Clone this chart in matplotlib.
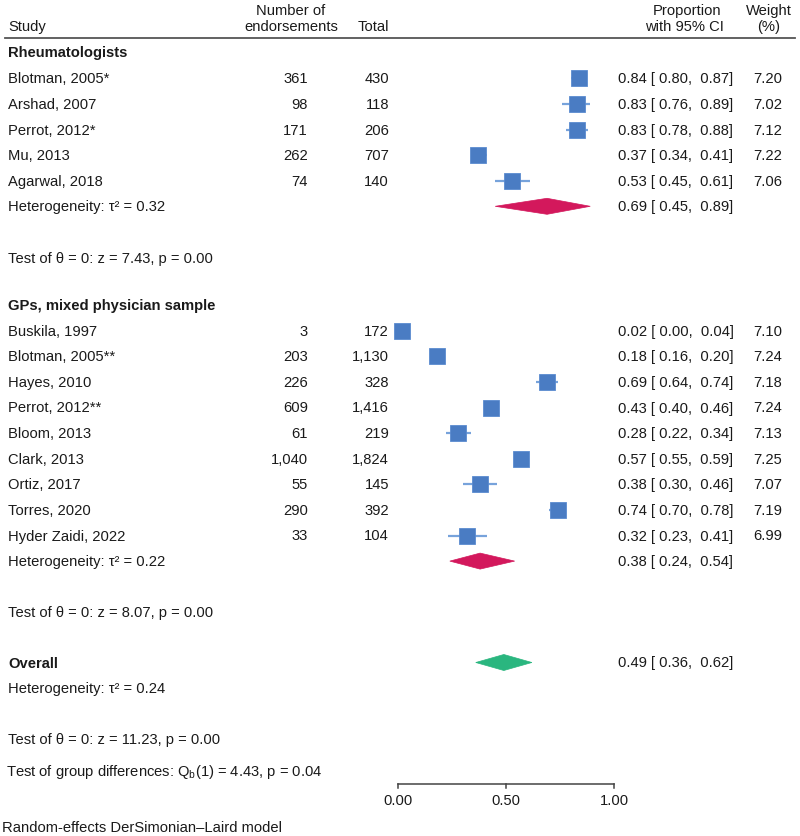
import matplotlib
matplotlib.use("Agg")
import matplotlib.pyplot as plt
from matplotlib.transforms import blended_transform_factory
from matplotlib.patches import Polygon

plt.rcParams['font.family'] = ['Liberation Sans', 'DejaVu Sans']
plt.rcParams['mathtext.fontset'] = 'custom'
plt.rcParams['mathtext.rm'] = 'Liberation Sans'
plt.rcParams['mathtext.it'] = 'Liberation Sans:italic'

# ---------------- data ----------------
rheum_studies = ["Blotman, 2005*", "Arshad, 2007", "Perrot, 2012*", "Mu, 2013", "Agarwal, 2018"]
rheum_endorse = [361, 98, 171, 262, 74]
rheum_total = [430, 118, 206, 707, 140]
rheum_prop = [0.84, 0.83, 0.83, 0.37, 0.53]
rheum_lo = [0.80, 0.76, 0.78, 0.34, 0.45]
rheum_hi = [0.87, 0.89, 0.88, 0.41, 0.61]
rheum_weight = [7.20, 7.02, 7.12, 7.22, 7.06]
rheum_pooled = [0.69, 0.45, 0.89]
rheum_tau2 = 0.32
rheum_z = 7.43
rheum_p = 0.00

gp_studies = ["Buskila, 1997", "Blotman, 2005**", "Hayes, 2010", "Perrot, 2012**", "Bloom, 2013",
              "Clark, 2013", "Ortiz, 2017", "Torres, 2020", "Hyder Zaidi, 2022"]
gp_endorse = [3, 203, 226, 609, 61, 1040, 55, 290, 33]
gp_total = [172, 1130, 328, 1416, 219, 1824, 145, 392, 104]
gp_prop = [0.02, 0.18, 0.69, 0.43, 0.28, 0.57, 0.38, 0.74, 0.32]
gp_lo = [0.00, 0.16, 0.64, 0.40, 0.22, 0.55, 0.30, 0.70, 0.23]
gp_hi = [0.04, 0.20, 0.74, 0.46, 0.34, 0.59, 0.46, 0.78, 0.41]
gp_weight = [7.10, 7.24, 7.18, 7.24, 7.13, 7.25, 7.07, 7.19, 6.99]
gp_pooled = [0.38, 0.24, 0.54]
gp_tau2 = 0.22
gp_z = 8.07
gp_p = 0.00

overall_pooled = [0.49, 0.36, 0.62]
overall_tau2 = 0.24
overall_z = 11.23
overall_p = 0.00
group_Q = 4.43
group_df = 1
group_p = 0.04

xticks = [0.0, 0.5, 1.0]
xtick_labels = ["0.00", "0.50", "1.00"]

# ---------------- layout ----------------
W, H = 800, 837
X0PX, X1PX = 398, 614          # pixel positions of proportion 0 and 1
STEP = 25.6
FS = 10.6

fig = plt.figure(figsize=(W / 100, H / 100), dpi=100)
ax = fig.add_axes([0, 0, 1, 1])
ax.set_xlim(-X0PX / (X1PX - X0PX), (W - X0PX) / (X1PX - X0PX))
ax.set_ylim(H, 0)
ax.axis('off')
tr = blended_transform_factory(ax.transAxes, ax.transData)

def txt(px, y, s, ha='left', bold=False, **kw):
    ax.text(px / W, y, s, transform=tr, ha=ha, va='center', fontsize=FS,
            fontweight='bold' if bold else 'normal', color='#1a1a1a', **kw)

SQ_COLOR = '#4a7cc3'
CI_COLOR = '#77a3db'
RED = '#d3185c'
GREEN = '#2ab67f'

def study_row(y, name, e, t, p, lo, hi, w):
    txt(8, y, name)
    txt(308, y, f"{e:,}", ha='right')
    txt(389, y, f"{t:,}", ha='right')
    ax.plot([lo, hi], [y, y], color=CI_COLOR, lw=1.6, zorder=2, solid_capstyle='butt')
    side = 16.0 * (w / 7.2) ** 0.5   # px
    ax.plot([p], [y], marker='s', ms=side * 0.72, color=SQ_COLOR, mec='#5b8bd0',
            mew=0.6, zorder=3, linestyle='none')
    txt(618, y, f"{p:.2f} [ {lo:.2f},  {hi:.2f}]")
    txt(768, y, f"{w:.2f}", ha='center')

def diamond(y, est, lo, hi, color):
    half = 8
    ax.add_patch(Polygon([[lo, y], [est, y - half], [hi, y], [est, y + half]],
                         closed=True, facecolor=color, edgecolor=color, lw=0.5, zorder=3))
    txt(618, y, f"{est:.2f} [ {lo:.2f},  {hi:.2f}]")

# header
txt(291, 11, "Number of", ha='center')
txt(291, 27, "endorsements", ha='center')
txt(8, 27, "Study")
txt(389, 27, "Total", ha='right')
txt(687, 11, "Proportion", ha='center')
txt(684, 27, "with 95% CI", ha='center')
txt(769, 11, "Weight", ha='center')
txt(769, 27, "(%)", ha='center')
ax.plot([5 / W, 795 / W], [39, 39], transform=tr, color='#555555', lw=1.3)

# Rheumatologists
y0 = 79.3
txt(8, 53, "Rheumatologists", bold=True)
for i in range(len(rheum_studies)):
    study_row(y0 + i * STEP, rheum_studies[i], rheum_endorse[i], rheum_total[i],
              rheum_prop[i], rheum_lo[i], rheum_hi[i], rheum_weight[i])
yh = y0 + len(rheum_studies) * STEP
txt(8, yh, f"Heterogeneity: τ² = {rheum_tau2:.2f}")
diamond(yh, *rheum_pooled, RED)
txt(8, yh + 2 * STEP, f"Test of θ = 0: z = {rheum_z:.2f}, p = {rheum_p:.2f}")

# GPs
txt(8, 306, "GPs, mixed physician sample", bold=True)
y1 = 331.7
for i in range(len(gp_studies)):
    study_row(y1 + i * STEP, gp_studies[i], gp_endorse[i], gp_total[i],
              gp_prop[i], gp_lo[i], gp_hi[i], gp_weight[i])
yh2 = y1 + len(gp_studies) * STEP
txt(8, yh2, f"Heterogeneity: τ² = {gp_tau2:.2f}")
diamond(yh2, *gp_pooled, RED)
txt(8, yh2 + 2 * STEP, f"Test of θ = 0: z = {gp_z:.2f}, p = {gp_p:.2f}")

# Overall
yo = 663.5
txt(8, yo, "Overall", bold=True)
diamond(yo, *overall_pooled, GREEN)
txt(8, yo + STEP, f"Heterogeneity: τ² = {overall_tau2:.2f}")
txt(8, yo + 3 * STEP, f"Test of θ = 0: z = {overall_z:.2f}, p = {overall_p:.2f}")
txt(6, 772.5, r"Test of group differences: Q$_\mathregular{b}$" + f"({group_df}) = {group_Q:.2f}, p = {group_p:.2f}")

# axis
ya = 785
ax.plot([xticks[0], xticks[-1]], [ya, ya], color='#444444', lw=1.1)
for xt, lab in zip(xticks, xtick_labels):
    ax.plot([xt, xt], [ya, ya + 4], color='#444444', lw=1.1)
    ax.text(xt, 801, lab, ha='center', va='center', fontsize=FS, color='#1a1a1a')

txt(2, 828, "Random-effects DerSimonian–Laird model")

fig.savefig("out.png", dpi=100)
